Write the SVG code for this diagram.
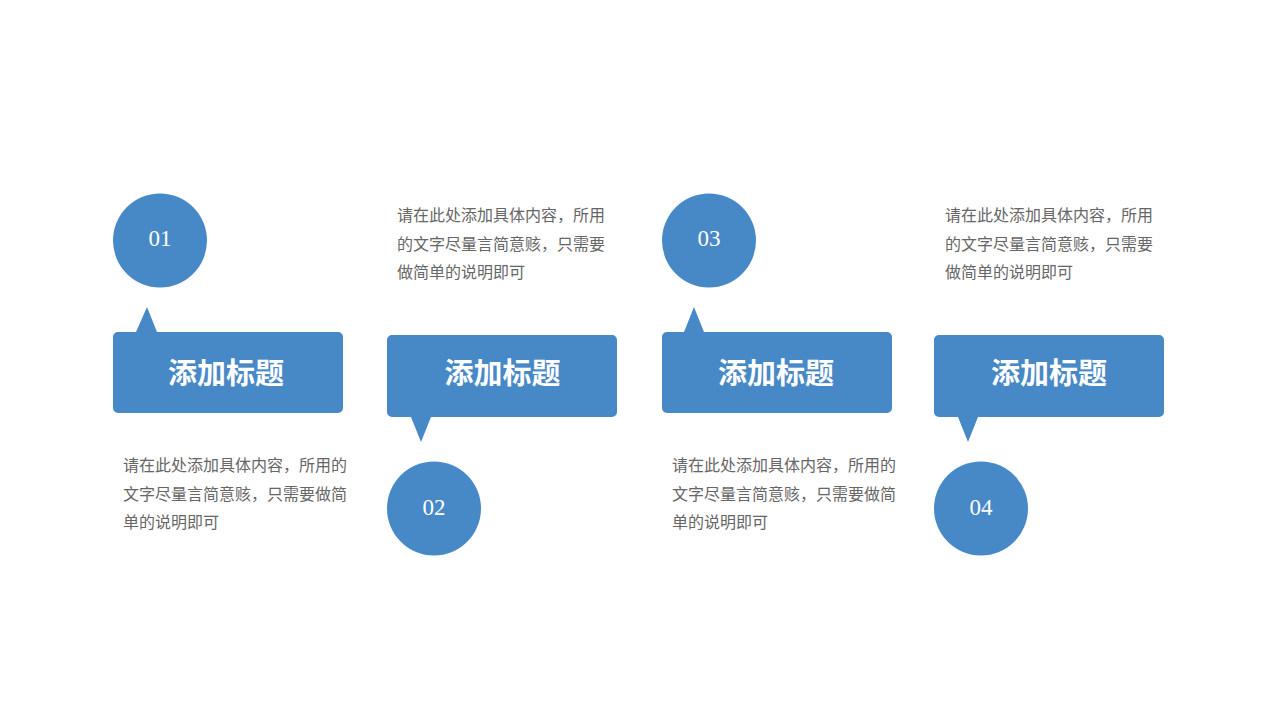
<svg xmlns="http://www.w3.org/2000/svg" width="1280" height="720" viewBox="0 0 1280 720">
<style>
.shape{fill:#4788c6;}
.num{font-family:"Liberation Serif","Noto Sans CJK SC",serif;font-size:23px;fill:#ffffff;text-anchor:middle;}
.title{font-family:"Noto Sans CJK SC","Noto Sans",sans-serif;font-size:29px;font-weight:bold;fill:#ffffff;text-anchor:middle;}
.desc{font-family:"Noto Sans CJK SC","Noto Sans",sans-serif;font-size:16px;fill:#666666;}
</style>
<rect width="1280" height="720" fill="#ffffff"/>
<g id="node-01">
<circle class="shape" cx="160" cy="240.5" r="47"/>
<text class="num" x="160" y="245.5">01</text>
<path class="shape" d="M118,332 H136 L147,307 L157,332 H338 A5,5 0 0 1 343,337 V408 A5,5 0 0 1 338,413 H118 A5,5 0 0 1 113,408 V337 A5,5 0 0 1 118,332 Z"/>
<text class="title" x="226" y="384">添加标题</text>
<text class="desc" x="123" y="471">请在此处添加具体内容，所用的</text>
<text class="desc" x="123" y="499.5">文字尽量言简意赅，只需要做简</text>
<text class="desc" x="123" y="528">单的说明即可</text>
</g>
<g id="node-02">
<text class="desc" x="397" y="221">请在此处添加具体内容，所用</text>
<text class="desc" x="397" y="249.5">的文字尽量言简意赅，只需要</text>
<text class="desc" x="397" y="278">做简单的说明即可</text>
<path class="shape" d="M392,335 H612 A5,5 0 0 1 617,340 V412 A5,5 0 0 1 612,417 H431 L421,442 L411,417 H392 A5,5 0 0 1 387,412 V340 A5,5 0 0 1 392,335 Z"/>
<text class="title" x="502.5" y="384">添加标题</text>
<circle class="shape" cx="434" cy="508.5" r="47"/>
<text class="num" x="434" y="515">02</text>
</g>
<g id="node-03">
<circle class="shape" cx="709" cy="240.5" r="47"/>
<text class="num" x="709" y="245.5">03</text>
<path class="shape" d="M667,332 H684 L694,307 L704,332 H887 A5,5 0 0 1 892,337 V408 A5,5 0 0 1 887,413 H667 A5,5 0 0 1 662,408 V337 A5,5 0 0 1 667,332 Z"/>
<text class="title" x="776" y="384">添加标题</text>
<text class="desc" x="672" y="471">请在此处添加具体内容，所用的</text>
<text class="desc" x="672" y="499.5">文字尽量言简意赅，只需要做简</text>
<text class="desc" x="672" y="528">单的说明即可</text>
</g>
<g id="node-04">
<text class="desc" x="945" y="221">请在此处添加具体内容，所用</text>
<text class="desc" x="945" y="249.5">的文字尽量言简意赅，只需要</text>
<text class="desc" x="945" y="278">做简单的说明即可</text>
<path class="shape" d="M939,335 H1159 A5,5 0 0 1 1164,340 V412 A5,5 0 0 1 1159,417 H978 L968,442 L958,417 H939 A5,5 0 0 1 934,412 V340 A5,5 0 0 1 939,335 Z"/>
<text class="title" x="1049" y="384">添加标题</text>
<circle class="shape" cx="981" cy="508.5" r="47"/>
<text class="num" x="981" y="515">04</text>
</g>
<g id="connectors"></g>
</svg>
